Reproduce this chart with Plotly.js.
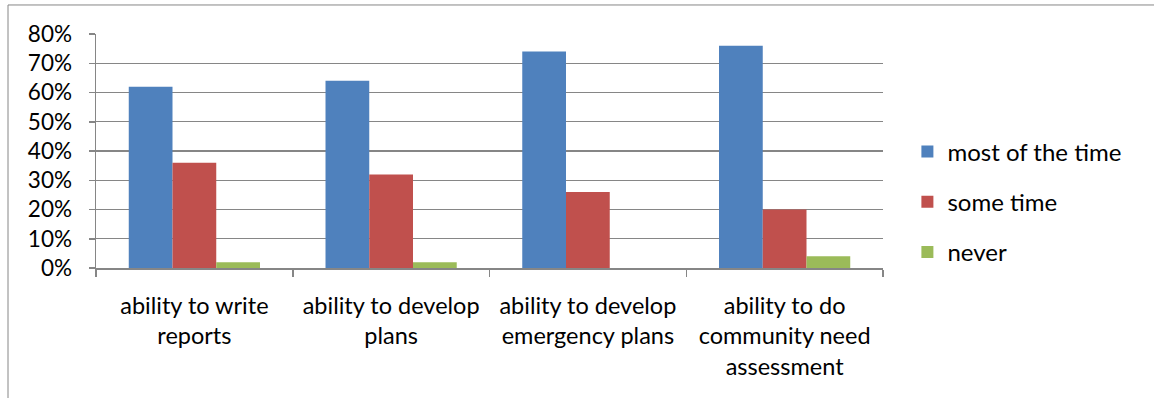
<!DOCTYPE html>
<html>
<head>
<meta charset="utf-8">
<script src="https://cdn.plot.ly/plotly-3.0.1.min.js"></script>
<style>html,body{margin:0;padding:0;background:#fff;}#chart{width:1154px;height:398px;}</style>
</head>
<body>
<div id="chart"></div>
<script>
const categories = ["ability to write<br>reports", "ability to develop<br>plans", "ability to develop<br>emergency plans", "ability to do<br>community need<br>assessment"];
const seriesNames = ["most of the time", "some time", "never"];
const mostOfTheTime = [0.62, 0.64, 0.74, 0.76];
const someTime = [0.36, 0.32, 0.26, 0.20];
const never = [0.02, 0.02, 0.00, 0.04];
const colors = ["#4F81BD", "#C0504D", "#9BBB59"];
const yTicks = [0, 0.1, 0.2, 0.3, 0.4, 0.5, 0.6, 0.7, 0.8];

const values = [mostOfTheTime, someTime, never];
const FONT = "Lato, 'Open Sans', sans-serif";

const traces = values.map((v, i) => ({
  type: "bar",
  name: seriesNames[i],
  x: categories,
  y: v,
  marker: {color: colors[i]},
  legendgroup: "g" + i,
  hoverinfo: "none"
}));

const layout = {
  width: 1154, height: 398,
  margin: {l: 96, r: 271, t: 34, b: 130},
  paper_bgcolor: "#fff", plot_bgcolor: "#fff",
  barmode: "group",
  bargap: 0.333, bargroupgap: 0,
  font: {family: FONT, size: 22, color: "#000"},
  xaxis: {
    type: "category",
    showgrid: false,
    showline: true, linecolor: "#868686", linewidth: 1.5,
    ticks: "outside", tickson: "boundaries", ticklen: 7, tickcolor: "#868686", tickwidth: 1.5,
    tickfont: {family: FONT, size: 23.5, color: "#000"},
    ticklabelstandoff: 16,
    tickangle: 0,
    fixedrange: true
  },
  yaxis: {
    range: [0, 0.8],
    tickvals: yTicks,
    tickformat: ".0%",
    showgrid: true, gridcolor: "#868686", gridwidth: 1.3,
    showline: true, linecolor: "#868686", linewidth: 1.5,
    ticks: "outside", ticklen: 6, tickcolor: "#868686", tickwidth: 1.5,
    tickfont: {family: FONT, size: 22.5, color: "#000"},
    ticklabelstandoff: 12,
    zeroline: false,
    fixedrange: true
  },
  legend: {
    x: 1.031, xanchor: "left",
    y: 0.282, yanchor: "middle",
    font: {family: FONT, size: 24, color: "#000"},
    tracegroupgap: 16,
    itemwidth: 30,
    bgcolor: "rgba(0,0,0,0)"
  },
  showlegend: true,
  shapes: [{
    type: "rect", xref: "paper", yref: "paper",
    x0: -0.1118, x1: 1.6, y0: -1, y1: 1.124,
    line: {color: "#868686", width: 1}
  }]
};

Plotly.newPlot("chart", traces, layout, {displayModeBar: false, staticPlot: true});
</script>
</body>
</html>
